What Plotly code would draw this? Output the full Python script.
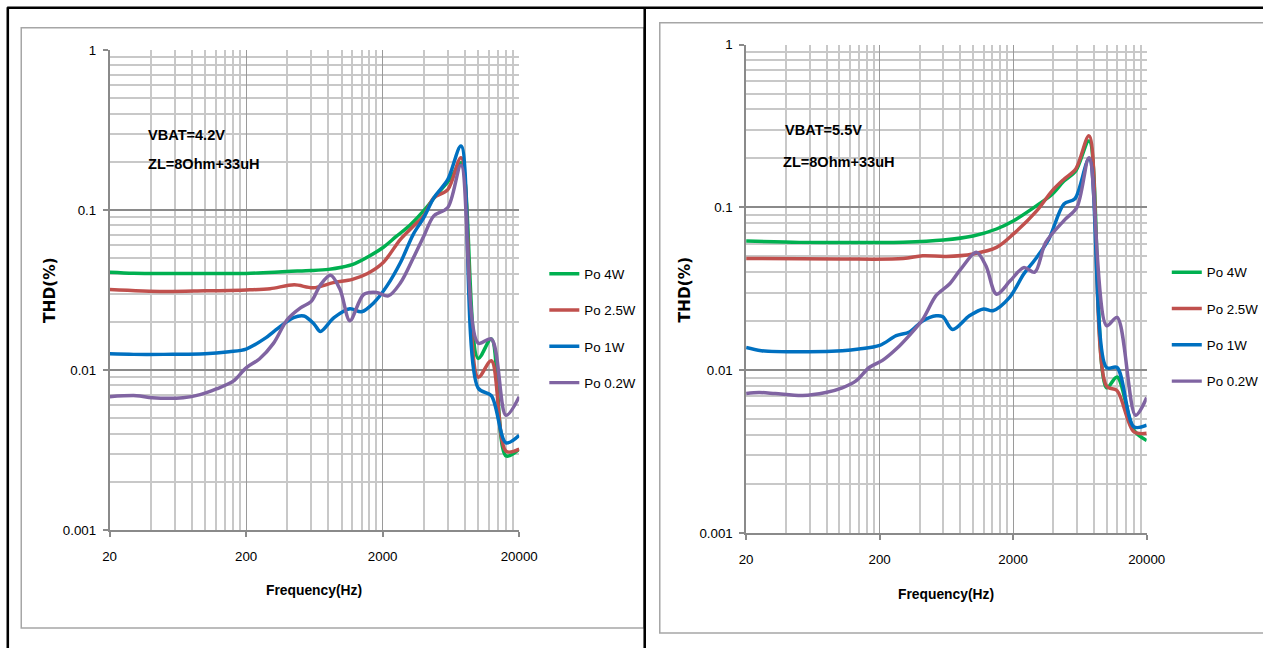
import math
import plotly.graph_objects as go

# ---------------- data ----------------
SERIES_NAMES = ["Po 4W", "Po 2.5W", "Po 1W", "Po 0.2W"]
SERIES_COLORS = ["#00B050", "#C0504D", "#0070C0", "#8064A2"]

# Left chart: VBAT=4.2V
L_F_4W = [20, 30, 50, 100, 200, 400, 600, 800, 1000, 1250, 1600, 2000, 2500, 3150, 4000, 5000, 6300, 7500, 10000, 12500, 16000, 20000]
L_V_4W = [0.0408, 0.0402, 0.0400, 0.0400, 0.0401, 0.0412, 0.0418, 0.0425, 0.0438, 0.0462, 0.0515, 0.058, 0.068, 0.080, 0.099, 0.125, 0.158, 0.197, 0.0118, 0.0156, 0.0029, 0.0032]

L_F_25W = [20, 50, 100, 200, 300, 450, 620, 870, 1200, 1550, 2000, 2700, 3350, 4000, 4740, 6000, 7500, 10000, 12500, 16000, 20000]
L_V_25W = [0.0318, 0.0309, 0.0312, 0.0316, 0.0322, 0.0340, 0.0326, 0.0351, 0.0368, 0.0400, 0.0465, 0.0655, 0.079, 0.092, 0.119, 0.134, 0.212, 0.0090, 0.0114, 0.0031, 0.0032]

L_F_1W = [20, 30, 50, 100, 150, 200, 280, 320, 445, 530, 630, 700, 880, 1150, 1400, 1730, 2150, 2700, 3350, 4000, 4740, 6000, 7500, 10000, 12500, 16000, 20000]
L_V_1W = [0.0126, 0.0125, 0.0125, 0.0126, 0.0130, 0.0135, 0.0159, 0.0174, 0.0212, 0.0217, 0.0193, 0.0174, 0.0212, 0.0241, 0.0231, 0.0264, 0.0335, 0.0469, 0.0704, 0.0894, 0.119, 0.155, 0.251, 0.0077, 0.0069, 0.0035, 0.0039]

L_F_02W = [20, 31.5, 41, 69, 92, 121, 161, 200, 250, 318, 400, 500, 600, 700, 830, 975, 1150, 1450, 1800, 2200, 2700, 3350, 4000, 4740, 6000, 7500, 10000, 12500, 16000, 20000]
L_V_02W = [0.0068, 0.0069, 0.0067, 0.0067, 0.0070, 0.0076, 0.0085, 0.0103, 0.0117, 0.0147, 0.0206, 0.0244, 0.0268, 0.0340, 0.0390, 0.0318, 0.0203, 0.0296, 0.0305, 0.0290, 0.0350, 0.050, 0.0685, 0.0917, 0.1035, 0.190, 0.0147, 0.0156, 0.0052, 0.0068]

# Right chart: VBAT=5.5V
R_F_4W = [20, 50, 100, 300, 600, 1000, 1500, 2000, 3000, 3900, 4800, 5900, 7400, 10000, 12000, 16000, 20000]
R_V_4W = [0.0622, 0.0610, 0.0608, 0.0612, 0.0630, 0.0667, 0.0737, 0.0825, 0.1026, 0.120, 0.145, 0.168, 0.256, 0.0078, 0.0091, 0.0043, 0.0037]

R_F_25W = [20, 100, 300, 420, 630, 1000, 1500, 2000, 3000, 3900, 4800, 5900, 7400, 10000, 12000, 16000, 20000]
R_V_25W = [0.0486, 0.0482, 0.0485, 0.0505, 0.0500, 0.0518, 0.0568, 0.0685, 0.0953, 0.126, 0.149, 0.173, 0.275, 0.0080, 0.0075, 0.0042, 0.0041]

R_F_1W = [20, 26, 59, 105, 140, 200, 266, 334, 420, 530, 595, 704, 940, 1200, 1410, 1880, 2400, 3000, 3700, 4800, 5800, 7400, 10000, 12000, 16000, 20000]
R_V_1W = [0.0138, 0.0132, 0.0130, 0.0132, 0.0135, 0.0142, 0.0163, 0.0172, 0.0201, 0.0216, 0.0213, 0.0178, 0.0216, 0.0238, 0.0232, 0.0280, 0.0390, 0.0493, 0.0639, 0.105, 0.113, 0.198, 0.0104, 0.0104, 0.0045, 0.0046]

R_F_02W = [20, 25, 33, 53, 79, 105, 133, 167, 210, 266, 334, 420, 530, 670, 810, 1060, 1250, 1500, 1900, 2400, 2900, 3500, 4800, 6000, 7400, 10000, 12000, 16500, 20000]
R_V_02W = [0.0072, 0.0073, 0.0072, 0.0070, 0.0073, 0.0078, 0.0086, 0.0104, 0.0115, 0.0135, 0.0164, 0.0205, 0.0288, 0.0340, 0.0418, 0.0530, 0.0438, 0.0293, 0.0354, 0.0427, 0.0400, 0.0608, 0.083, 0.100, 0.202, 0.0188, 0.0211, 0.0053, 0.0068]

X_TICKS = [20, 200, 2000, 20000]
X_TICK_TEXT = ["20", "200", "2000", "20000"]
Y_TICKS = [0.001, 0.01, 0.1, 1]
Y_TICK_TEXT = ["0.001", "0.01", "0.1", "1"]
X_MINOR = [m * d for d in (20, 200, 2000) for m in range(2, 10)]
Y_MINOR = [m * d for d in (0.001, 0.01, 0.1) for m in range(2, 10)]

LEFT_NOTE = ["VBAT=4.2V", "ZL=8Ohm+33uH"]
RIGHT_NOTE = ["VBAT=5.5V", "ZL=8Ohm+33uH"]
X_TITLE = "Frequency(Hz)"
Y_TITLE = "THD(%)"

# ---------------- figure ----------------
# The captured page is shown at scale S with the figure starting OFFP page
# pixels in; px/py convert target-picture pixels into paper fractions.
S = 648 / 664
OFFP = 8
FW = int(round(1263 / S - OFFP))
FH = int(round(648 / S - OFFP))
FONT = "Liberation Sans, Arial, sans-serif"


def px(x):
    return (x / S - OFFP) / FW


def py(y):
    return 1 - (y / S - OFFP) / FH


def sz(v):
    return v / S


fig = go.Figure()

left_sets = [(L_F_4W, L_V_4W), (L_F_25W, L_V_25W), (L_F_1W, L_V_1W), (L_F_02W, L_V_02W)]
right_sets = [(R_F_4W, R_V_4W), (R_F_25W, R_V_25W), (R_F_1W, R_V_1W), (R_F_02W, R_V_02W)]

for i, (f, v) in enumerate(left_sets):
    fig.add_trace(go.Scatter(
        x=f, y=v, mode="lines", name=SERIES_NAMES[i],
        line=dict(color=SERIES_COLORS[i], width=sz(3.4), shape="spline", smoothing=0.9),
        xaxis="x", yaxis="y", legend="legend", legendgroup="L%d" % i,
    ))
for i, (f, v) in enumerate(right_sets):
    fig.add_trace(go.Scatter(
        x=f, y=v, mode="lines", name=SERIES_NAMES[i],
        line=dict(color=SERIES_COLORS[i], width=sz(3.4), shape="spline", smoothing=0.9),
        xaxis="x2", yaxis="y2", legend="legend2", legendgroup="R%d" % i,
    ))


def xaxis_cfg(domain, anchor):
    return dict(
        type="log", domain=domain, anchor=anchor,
        range=[math.log10(20), math.log10(20000)],
        tickmode="array", tickvals=X_TICKS, ticktext=X_TICK_TEXT,
        ticks="outside", ticklen=5, tickcolor="#8a8a8a", tickwidth=1.5,
        showline=True, linecolor="#8a8a8a", linewidth=1.5,
        showgrid=True, gridcolor="#9a9a9a", gridwidth=1.2,
        minor=dict(tickmode="array", tickvals=X_MINOR, showgrid=True,
                   gridcolor="#c8c8c8", gridwidth=1.5, ticks=""),
        tickfont=dict(family=FONT, size=sz(13), color="#000000"),
        ticklabelstandoff=8,
        zeroline=False, fixedrange=True,
    )


def yaxis_cfg(domain, anchor):
    return dict(
        type="log", domain=domain, anchor=anchor,
        range=[-3, 0],
        tickmode="array", tickvals=Y_TICKS, ticktext=Y_TICK_TEXT,
        ticks="outside", ticklen=5, tickcolor="#8a8a8a", tickwidth=1.5,
        showline=True, linecolor="#8a8a8a", linewidth=1.5,
        showgrid=True, gridcolor="#8a8a8a", gridwidth=1.5,
        minor=dict(tickmode="array", tickvals=Y_MINOR, showgrid=True,
                   gridcolor="#c8c8c8", gridwidth=1.5, ticks=""),
        tickfont=dict(family=FONT, size=sz(13), color="#000000"),
        ticklabelstandoff=4,
        zeroline=False, fixedrange=True,
    )


fig.update_layout(
    width=FW, height=FH,
    margin=dict(l=0, r=0, t=0, b=0),
    paper_bgcolor="white", plot_bgcolor="white",
    showlegend=True,
    xaxis=xaxis_cfg([px(110), px(518)], "y"),
    yaxis=yaxis_cfg([py(530), py(50.7)], "x"),
    xaxis2=xaxis_cfg([px(744), px(1143)], "y2"),
    yaxis2=yaxis_cfg([py(533.3), py(45.3)], "x2"),
    legend=dict(x=px(543), y=py(259), xanchor="left", yanchor="top",
                font=dict(family=FONT, size=sz(13), color="#000000"),
                tracegroupgap=16, bgcolor="rgba(0,0,0,0)", itemclick=False),
    legend2=dict(x=px(1163), y=py(257.5), xanchor="left", yanchor="top",
                 font=dict(family=FONT, size=sz(13), color="#000000"),
                 tracegroupgap=16, bgcolor="rgba(0,0,0,0)", itemclick=False),
)

shapes = []
# black frame lines (kept just inside the drawable area)
shapes.append(dict(type="line", xref="paper", yref="paper", x0=px(8), x1=px(1300), y0=py(8.6), y1=py(8.6),
                   line=dict(color="black", width=sz(2.5))))
shapes.append(dict(type="line", xref="paper", yref="paper", x0=px(8.6), x1=px(8.6), y0=py(8), y1=py(680),
                   line=dict(color="black", width=sz(2.5))))
shapes.append(dict(type="line", xref="paper", yref="paper", x0=px(643), x1=px(643), y0=py(8), y1=py(680),
                   line=dict(color="black", width=sz(2.5))))
# grey chart frames
shapes.append(dict(type="rect", xref="paper", yref="paper", x0=px(22), x1=px(642), y0=py(628), y1=py(28.5),
                   line=dict(color="#a6a6a6", width=1.5), layer="below"))
shapes.append(dict(type="rect", xref="paper", yref="paper", x0=px(658), x1=px(1300), y0=py(633), y1=py(23.5),
                   line=dict(color="#a6a6a6", width=1.5), layer="below"))
fig.update_layout(shapes=shapes)

ann = []


def note(x, y, text):
    ann.append(dict(xref="paper", yref="paper", x=px(x), y=py(y), text="<b>%s</b>" % text,
                    showarrow=False, xanchor="left", yanchor="middle",
                    font=dict(family=FONT, size=sz(14.2), color="black")))


note(146, 135.5, LEFT_NOTE[0])
note(146, 164.5, LEFT_NOTE[1])
note(781, 130.5, RIGHT_NOTE[0])
note(779, 162.5, RIGHT_NOTE[1])
# axis titles
for cx, cy in [(314, 590), (943, 594)]:
    ann.append(dict(xref="paper", yref="paper", x=px(cx), y=py(cy), text="<b>%s</b>" % X_TITLE,
                    showarrow=False, xanchor="center", yanchor="middle",
                    font=dict(family=FONT, size=sz(13.5), color="black")))
for cx, cy in [(50, 290), (683, 290)]:
    ann.append(dict(xref="paper", yref="paper", x=px(cx), y=py(cy), text="<b>%s</b>" % Y_TITLE,
                    showarrow=False, xanchor="center", yanchor="middle", textangle=-90,
                    font=dict(family="DejaVu Sans", size=sz(15), color="black")))
fig.update_layout(annotations=ann)

fig.write_html("out.html", config={"displayModeBar": False},
               post_script="document.body.style.margin='0';")
